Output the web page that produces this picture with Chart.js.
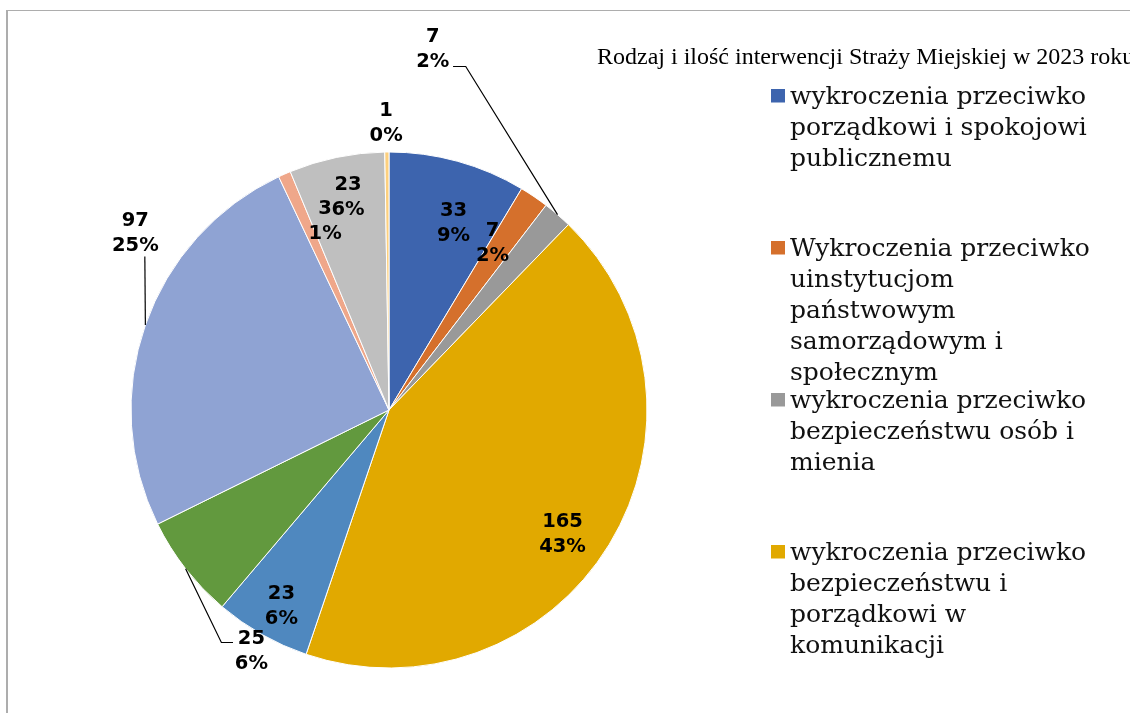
<!DOCTYPE html>
<html>
<head>
<meta charset="utf-8">
<script src="https://cdn.jsdelivr.net/npm/chart.js@4/dist/chart.umd.min.js"></script>
<style>
html,body{margin:0;padding:0;background:#fff;}
#wrap{position:relative;width:1130px;height:713px;}
</style>
</head>
<body>
<div id="wrap"><canvas id="c" width="1130" height="713"></canvas></div>
<script>
// ---------- data ----------
const chartTitle = "Rodzaj i ilość interwencji Straży Miejskiej w 2023 roku";
const categories = [
  ["wykroczenia przeciwko", "porządkowi i spokojowi", "publicznemu"],
  ["Wykroczenia przeciwko", "uinstytucjom", "państwowym", "samorządowym i", "społecznym"],
  ["wykroczenia przeciwko", "bezpieczeństwu osób i", "mienia"],
  ["wykroczenia przeciwko", "bezpieczeństwu i", "porządkowi w", "komunikacji"],
  [""], [""], [""], [""], [""], [""]
];
const values = [33, 7, 7, 165, 23, 25, 97, 3, 23, 1];
const percentLabels = ["9%", "2%", "2%", "43%", "6%", "6%", "25%", "1%", "6%", "0%"];
const sliceColors = ["#3D64AE", "#D5702C", "#999999", "#E1A900", "#4F88BF",
                     "#62993E", "#8FA3D3", "#EFA78A", "#BFBFBF", "#FDD07E"];

// ---------- layout / style ----------
const legendVisibleCount = 4;
// label placement: angle offset (deg) from slice mid-angle, radius as fraction of outer radius,
// optional leader: elbow (ex,ey) and horizontal end hx relative to the label centre
const labelPlacement = [
  {da: 3.4,   r: 0.774},
  {da: -2.6,  r: 0.766},
  {da: -33.9, r: 1.415, leader: {ex: 33, ey: 18.2, hx: 20.3}},
  {da: 3.8,   r: 0.823},
  {da: -0.6,  r: 0.862},
  {da: -22.1, r: 1.069, leader: {ex: -30, ey: -7.5, hx: -18.4}},
  {da: 15.9,  r: 1.202, leader: {ex: 9.5, ey: 24.3, hx: 9.5}},
  {da: 5.4,   r: 0.780},
  {da: 0.9,   r: 0.845},
  {da: -0.1,  r: 1.118}
];

const framePlugin = {
  id: 'frame',
  beforeDraw(chart) {
    const ctx = chart.ctx;
    ctx.save();
    ctx.fillStyle = '#ffffff';
    ctx.fillRect(0, 0, chart.width, chart.height);
    ctx.fillStyle = '#ADADAD';
    ctx.fillRect(6, 10, chart.width - 6, 1);
    ctx.fillRect(6, 10, 2, chart.height - 10);
    ctx.restore();
  }
};

const labelPlugin = {
  id: 'sliceLabels',
  afterDatasetsDraw(chart) {
    const ctx = chart.ctx;
    const meta = chart.getDatasetMeta(0);
    ctx.save();
    ctx.font = 'bold 19.5px "DejaVu Sans"';
    ctx.fillStyle = '#000';
    ctx.textAlign = 'center';
    ctx.textBaseline = 'alphabetic';
    ctx.strokeStyle = '#000';
    ctx.lineWidth = 1.2;
    meta.data.forEach((arc, i) => {
      const p = arc.getProps(['x', 'y', 'startAngle', 'endAngle', 'outerRadius'], true);
      const mid = (p.startAngle + p.endAngle) / 2;
      const pl = labelPlacement[i];
      const a = mid + pl.da * Math.PI / 180;
      const cx = p.x + Math.cos(a) * p.outerRadius * pl.r;
      const cy = p.y + Math.sin(a) * p.outerRadius * pl.r;
      if (pl.leader) {
        const sx = p.x + Math.cos(mid) * p.outerRadius;
        const sy = p.y + Math.sin(mid) * p.outerRadius;
        const ey = Math.round(cy + pl.leader.ey) + 0.5;
        ctx.beginPath();
        ctx.moveTo(sx, sy);
        ctx.lineTo(cx + pl.leader.ex, ey);
        ctx.lineTo(cx + pl.leader.hx, ey);
        ctx.stroke();
      }
      const capHalf = 7.1;
      ctx.fillText(String(values[i]), cx, cy - 12.5 + capHalf);
      ctx.fillText(percentLabels[i], cx, cy + 12.5 + capHalf);
    });
    ctx.restore();
  }
};

const legendPlugin = {
  id: 'customLegend',
  afterDraw(chart) {
    const ctx = chart.ctx;
    ctx.save();
    // title
    ctx.font = '24px "Liberation Serif"';
    ctx.fillStyle = '#000';
    ctx.textAlign = 'left';
    ctx.textBaseline = 'alphabetic';
    ctx.fillText(chartTitle, 597, 64);
    // legend
    ctx.font = '25px "DejaVu Serif"';
    const ds = chart.data.datasets[0];
    for (let i = 0; i < legendVisibleCount; i++) {
      const base = 104 + i * 152;
      ctx.fillStyle = ds.backgroundColor[i];
      ctx.fillRect(771, base - 15, 14, 13.5);
      ctx.fillStyle = '#111';
      const lines = chart.data.labels[i];
      lines.forEach((ln, k) => ctx.fillText(ln, 790, base + k * 31));
    }
    ctx.restore();
  }
};

new Chart(document.getElementById('c'), {
  type: 'pie',
  data: {
    labels: categories,
    datasets: [{
      data: values,
      backgroundColor: sliceColors,
      borderColor: '#ffffff',
      borderWidth: 1
    }]
  },
  options: {
    responsive: false,
    animation: false,
    layout: {padding: {left: 130.5, right: 482.5, top: 151.5, bottom: 44.5}},
    plugins: {
      legend: {display: false},
      title: {display: false},
      tooltip: {enabled: false}
    }
  },
  plugins: [framePlugin, labelPlugin, legendPlugin]
});
</script>
</body>
</html>
